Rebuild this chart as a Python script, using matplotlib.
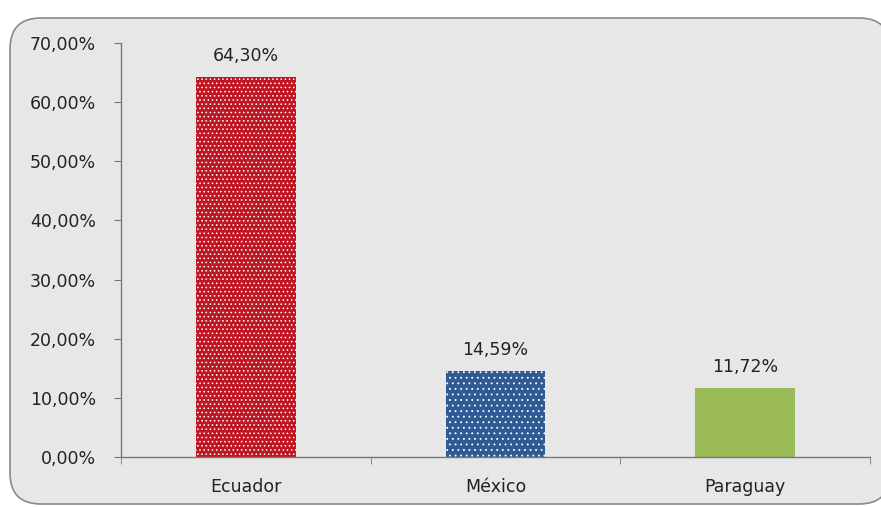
import matplotlib
matplotlib.use("Agg")
import matplotlib.pyplot as plt
from matplotlib.patches import FancyBboxPatch
from matplotlib.ticker import FuncFormatter, FixedLocator

countries = ["Ecuador", "México", "Paraguay"]
values = [64.30, 14.59, 11.72]
colors = ["#be1622", "#2f5a93", "#9bbb59"]
hatches = ["....", "...", None]

plt.rcParams['hatch.linewidth'] = 0.6

fig = plt.figure(figsize=(8.81, 5.07), dpi=100)
fig.patch.set_facecolor("white")

# rounded chart frame
frame = FancyBboxPatch((10 / 881, 3 / 507), 880 / 881, 486 / 507,
                       boxstyle="round,pad=0,rounding_size=0.035",
                       transform=fig.transFigure, facecolor="#e7e7e7",
                       edgecolor="#8a8a8a", linewidth=1.2, zorder=-5,
                       mutation_aspect=881 / 507)
fig.patches.append(frame)

ax = fig.add_axes([121 / 881, 50 / 507, 749 / 881, 414 / 507])
ax.set_facecolor("none")
ax.set_zorder(2)

x = range(len(countries))
for i, (v, c, h) in enumerate(zip(values, colors, hatches)):
    ax.bar(i, v, width=0.4, color=c, zorder=2)
    if h:
        ax.bar(i, v, width=0.4, color="none", edgecolor="white",
               hatch=h, linewidth=0, zorder=3)
    ax.text(i, v + 2.0, f"{v:.2f}%".replace(".", ","), ha="center",
            va="bottom", fontsize=12.5, color="#222222")

ax.set_xlim(-0.5, 2.5)
ax.set_ylim(0, 70)
ax.set_yticks(range(0, 71, 10))
ax.yaxis.set_major_formatter(FuncFormatter(lambda v, p: f"{v:.2f}%".replace(".", ",")))
ax.set_xticks(list(x))
ax.set_xticklabels(countries)
ax.xaxis.set_minor_locator(FixedLocator([-0.5, 0.5, 1.5, 2.5]))
ax.tick_params(axis="x", which="major", length=0, pad=15, labelsize=12.5)
ax.tick_params(axis="x", which="minor", length=5, color="#777777")
ax.tick_params(axis="y", length=5, color="#777777", labelsize=12.5, pad=13)
for t in ax.get_xticklabels() + ax.get_yticklabels():
    t.set_color("#222222")

for s in ["top", "right"]:
    ax.spines[s].set_visible(False)
for s in ["left", "bottom"]:
    ax.spines[s].set_color("#777777")
    ax.spines[s].set_linewidth(1)

fig.savefig("out.png", dpi=100)
